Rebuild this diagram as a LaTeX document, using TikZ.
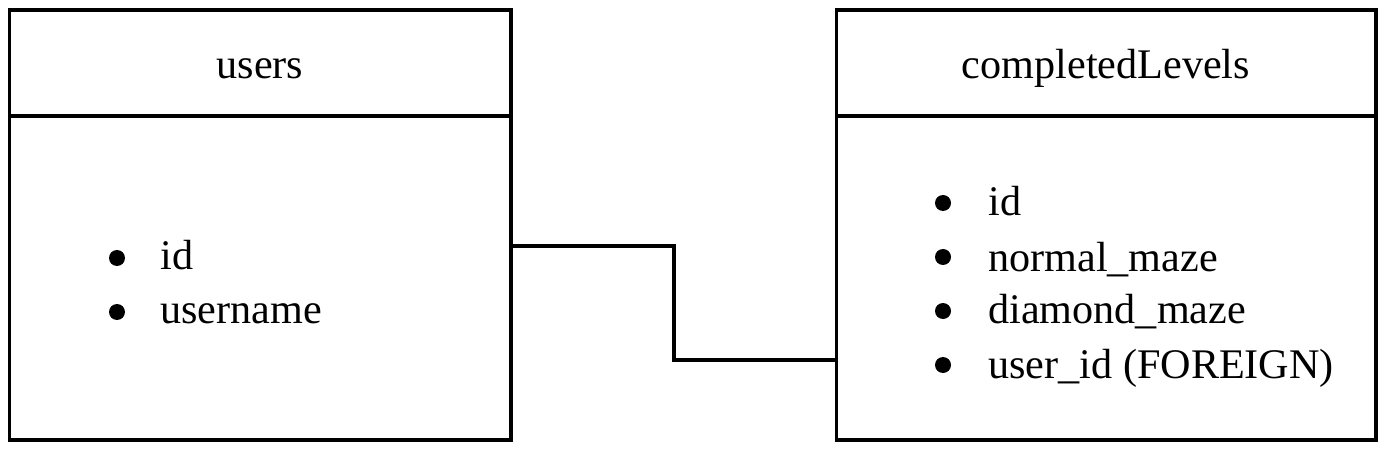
\documentclass[tikz,border=0pt]{standalone}
\usepackage{fontspec}
\setmainfont{Liberation Serif}
\usetikzlibrary{positioning}

\begin{document}
\begin{tikzpicture}[
  headbox/.style={draw, line width=2pt, minimum height=2.12cm, inner sep=0pt, outer sep=0pt},
  bodybox/.style={draw, line width=2pt, minimum height=6.48cm, inner sep=0pt, outer sep=0pt},
  title/.style={anchor=base, inner sep=0pt, font=\fontsize{24}{28}\selectfont},
  field/.style={anchor=base west, inner sep=0pt, font=\fontsize{24}{28}\selectfont},
  dot/.style={circle, fill, inner sep=0pt, minimum size=0.32cm},
  link/.style={line width=2pt}]
            \useasboundingbox (0,0) rectangle (27.68,-9.04);

            % users table
            \node[headbox, minimum width=10.03cm] (uhead) at (5.205,-1.26) {};
            \node[bodybox, minimum width=10.03cm, below=0pt of uhead] (ubody) {};
            \node[title] (utitle) at (5.2,-1.58) {users};
            \node[dot] (udot1) at (2.34,-5.16) {};
            \node[dot] (udot2) at (2.34,-6.24) {};
            \node[field] (uid) at (3.2,-5.38) {id};
            \node[field] (uname) at (3.2,-6.48) {username};

            % completedLevels table
            \node[headbox, minimum width=10.79cm] (chead) at (22.125,-1.26) {};
            \node[bodybox, minimum width=10.79cm, below=0pt of chead] (cbody) {};
            \node[title] (ctitle) at (22.12,-1.58) {completedLevels};
            \node[dot] (cdot1) at (18.86,-4.06) {};
            \node[dot] (cdot2) at (18.86,-5.14) {};
            \node[dot] (cdot3) at (18.86,-6.22) {};
            \node[dot] (cdot4) at (18.86,-7.30) {};
            \node[field] (cid) at (19.76,-4.32) {id};
            \node[field] (cnormal) at (19.76,-5.42) {normal\_maze};
            \node[field] (cdiamond) at (19.76,-6.48) {diamond\_maze};
            \node[field] (cuser) at (19.76,-7.56) {user\_id (FOREIGN)};

            \draw[link] (ubody.east |- 0,-4.92) -| (13.48,-7.2) -- (cbody.west |- 0,-7.2);
        \end{tikzpicture}
\end{document}
